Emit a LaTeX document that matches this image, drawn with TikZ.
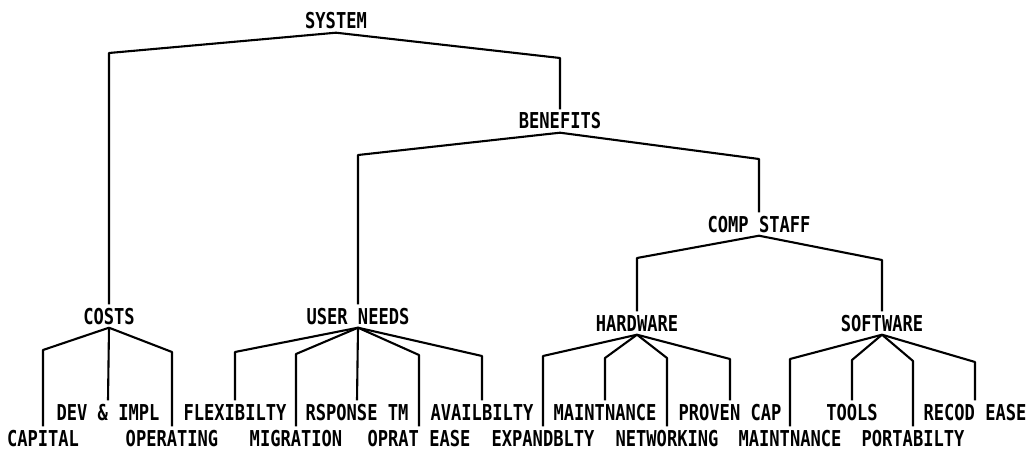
\documentclass[tikz,border=0pt]{standalone}
\usepackage{fontspec}
\newfontfamily\plotfont[FakeStretch=0.78]{DejaVu Sans Mono}
\usepackage{tikz}

\tikzset{
    lbl/.style={font=\plotfont\bfseries\fontsize{21.9}{24}\selectfont,
        inner sep=3.5pt, text height=16pt, text depth=0pt},
    edge/.style={line width=2.1pt, line join=round}
}

\begin{document}
\begin{tikzpicture}[x=1pt,y=-1pt]
    \useasboundingbox (0,0) rectangle (1036,468);

    \node[lbl] (system)    at (336,21)  {SYSTEM};
    \node[lbl] (benefits)  at (560,121) {BENEFITS};
    \node[lbl] (compstaff) at (759,224) {COMP STAFF};
    \node[lbl] (costs)     at (109,316) {COSTS};
    \node[lbl] (userneeds) at (358,316) {USER NEEDS};
    \node[lbl] (hardware)  at (637,323) {HARDWARE};
    \node[lbl] (software)  at (882,323) {SOFTWARE};

    \foreach \name/\txt/\xx/\row in {
        capital/CAPITAL/43/1, devimpl/DEV \& IMPL/108/0, operating/OPERATING/172/1,
        flexibilty/FLEXIBILTY/235/0, migration/MIGRATION/296/1, rsponse/RSPONSE TM/357/0,
        oprat/OPRAT EASE/419/1, availbilty/AVAILBILTY/482/0, expandblty/EXPANDBLTY/543/1,
        hwmaint/MAINTNANCE/605/0, networking/NETWORKING/667/1, proven/PROVEN CAP/730/0,
        swmaint/MAINTNANCE/790/1, tools/TOOLS/852/0, portabilty/PORTABILTY/913/1,
        recod/RECOD EASE/975/0} {
        \node[lbl] (\name) at (\xx,{412+26*\row}) {\txt};
    }

    \draw[edge] (system.south) -- (costs.north |- 0,53) -- (costs.north);
    \draw[edge] (system.south) -- (benefits.north |- 0,58) -- (benefits.north);

    \draw[edge] (benefits.south) -- (userneeds.north |- 0,155) -- (userneeds.north);
    \draw[edge] (benefits.south) -- (compstaff.north |- 0,159) -- (compstaff.north);

    \draw[edge] (compstaff.south) -- (hardware.north |- 0,258) -- (hardware.north);
    \draw[edge] (compstaff.south) -- (software.north |- 0,260) -- (software.north);

    \foreach \c/\y in {capital/350, operating/352}
        \draw[edge] (costs.south) -- (\c.north |- 0,\y) -- (\c.north);
    \draw[edge] (costs.south) -- (devimpl.north);

    \foreach \c/\y in {flexibilty/352, migration/354, oprat/355, availbilty/356}
        \draw[edge] (userneeds.south) -- (\c.north |- 0,\y) -- (\c.north);
    \draw[edge] (userneeds.south) -- (rsponse.north);

    \foreach \c/\y in {expandblty/356, hwmaint/358, networking/358, proven/359}
        \draw[edge] (hardware.south) -- (\c.north |- 0,\y) -- (\c.north);

    \foreach \c/\y in {swmaint/359, tools/360, portabilty/361, recod/362}
        \draw[edge] (software.south) -- (\c.north |- 0,\y) -- (\c.north);
\end{tikzpicture}
\end{document}
